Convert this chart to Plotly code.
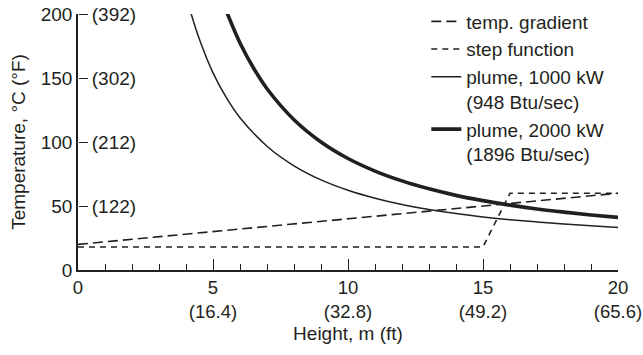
import plotly.graph_objects as go

# height (m) and temperatures (°C)
grad_x = [0, 20]
grad_y = [20, 60]

step_x = [0, 15, 16, 20]
step_y = [18, 18, 60, 60]

p1000_x = [4.15, 4.5, 5, 5.5, 6, 7, 8, 9, 10, 11, 12, 13, 14, 15, 16, 17, 18, 19, 20]
p1000_y = [203, 180, 154, 134.5, 119, 96.7, 81.4, 70.4, 62.3, 56.1, 51.2, 47.3, 44.1, 41.5, 39.3, 37.5, 35.9, 34.5, 33.3]

p2000_x = [5.48, 6, 6.5, 7, 8, 9, 10, 11, 12, 13, 14, 15, 16, 17, 18, 19, 20]
p2000_y = [203, 177.4, 157.8, 141.6, 117.4, 100, 87.1, 77.3, 69.6, 63.4, 58.3, 54.2, 50.7, 47.7, 45.2, 43.0, 41.1]

x_ticks = [0, 5, 10, 15, 20]
x_ticktext = ["0", "5<br>(16.4)", "10<br>(32.8)", "15<br>(49.2)", "20<br>(65.6)"]
y_ticks = [0, 50, 100, 150, 200]
f_ticks = [50, 100, 150, 200]
f_ticktext = ["(122)", "(212)", "(302)", "(392)"]

FONT = "Liberation Sans, Arial, Helvetica, sans-serif"
INK = "#231f20"
FS = 19

fig = go.Figure()
fig.add_trace(go.Scatter(x=grad_x, y=grad_y, mode="lines", name="temp. gradient",
                         line=dict(color=INK, width=1.6, dash="10px,5px")))
fig.add_trace(go.Scatter(x=step_x, y=step_y, mode="lines", name="step function",
                         line=dict(color=INK, width=1.6, dash="6px,5px")))
fig.add_trace(go.Scatter(x=p1000_x, y=p1000_y, mode="lines", name="plume, 1000 kW<br>(948 Btu/sec)",
                         line=dict(color=INK, width=1.5, shape="spline")))
fig.add_trace(go.Scatter(x=p2000_x, y=p2000_y, mode="lines", name="plume, 2000 kW<br>(1896 Btu/sec)",
                         line=dict(color=INK, width=3.6, shape="spline")))
# dummy trace carrying the °F labels on a second y axis
fig.add_trace(go.Scatter(x=[None], y=[None], yaxis="y2", showlegend=False, hoverinfo="skip"))

fig.update_layout(
    width=643, height=355,
    margin=dict(l=78, r=25, t=14, b=85, autoexpand=False),
    paper_bgcolor="white", plot_bgcolor="white",
    font=dict(family=FONT, size=FS, color=INK),
    showlegend=True,
    legend=dict(x=0.645, y=1.045, xanchor="left", yanchor="top", valign="top",
                bgcolor="rgba(0,0,0,0)", font=dict(size=FS), tracegroupgap=0),
    xaxis=dict(range=[0, 20], tickvals=x_ticks, ticktext=x_ticktext, automargin=False,
               ticklabeloverflow="allow",
               showline=True, linecolor=INK, linewidth=1.6, showgrid=False, zeroline=False,
               ticks="inside", ticklen=11, tickwidth=1.2, tickcolor=INK,
               tickfont=dict(size=18.5),
               minor=dict(dtick=1, ticks="inside", ticklen=6, tickwidth=1.2, tickcolor=INK),
               title=dict(text="Height, m (ft)", font=dict(size=FS), standoff=6)),
    yaxis=dict(range=[0, 200], tickvals=y_ticks, automargin=False, ticklabeloverflow="allow",
               showline=True, linecolor=INK, linewidth=1.6,
               showgrid=False, zeroline=False, ticks="", tickfont=dict(size=FS),
               title=dict(text="Temperature, °C (°F)", font=dict(size=FS), standoff=10)),
    yaxis2=dict(range=[0, 200], overlaying="y", side="right", anchor="free", position=0,
                tickvals=f_ticks, ticktext=f_ticktext, automargin=False, ticklabeloverflow="allow",
                ticks="outside", ticklen=9, tickwidth=1.2, tickcolor=INK, tickfont=dict(size=FS),
                showline=False, showgrid=False, zeroline=False),
)

# drop the default 8px body margin so the figure fills the window
fig.write_html("out.html", config={"displayModeBar": False},
               post_script="document.body.style.margin='0px';")
